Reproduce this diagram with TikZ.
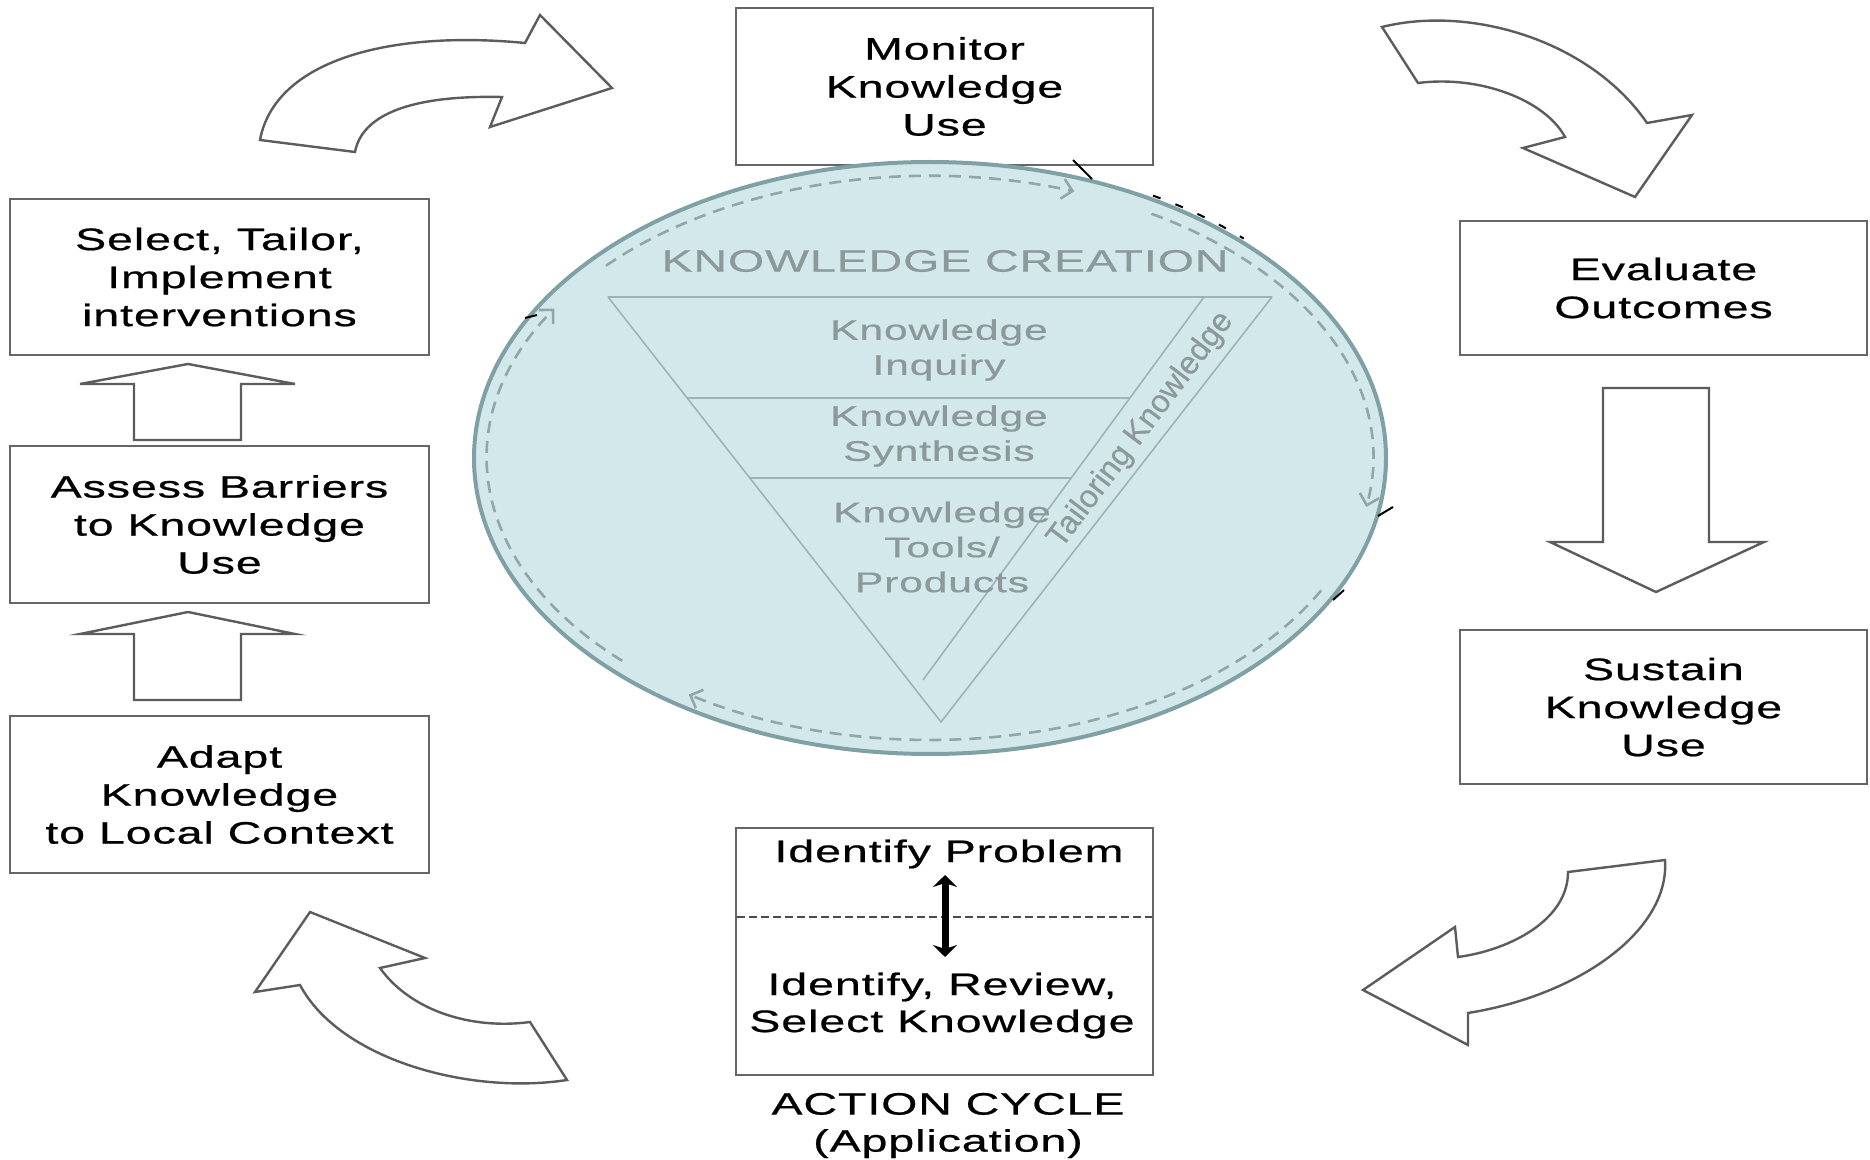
\documentclass[tikz,border=0pt]{standalone}
\usepackage{fontspec}
\setmainfont{Liberation Sans}[FakeStretch=1.5,LetterSpace=3,FakeBold=0.7]
\newfontfamily\plainsans{Liberation Sans}[FakeBold=0.5]
\usetikzlibrary{arrows.meta,calc}
\definecolor{boxline}{HTML}{666666}
\definecolor{arrline}{HTML}{5C5C5C}
\definecolor{ellfill}{HTML}{D3E8EA}
\definecolor{elldraw}{HTML}{7FA0A4}
\definecolor{kctext}{HTML}{8C999B}
\definecolor{triline}{HTML}{9DB3B5}
\definecolor{dashc}{HTML}{8FA7AA}
\tikzset{
  box/.style={draw=boxline, line width=1.4pt, fill=white, inner sep=0pt, align=center,
    font=\fontsize{15.5}{19}\selectfont, text=black},
  txt/.style={inner sep=0pt, align=center, font=\fontsize{15.5}{18.5}\selectfont, text=black},
  blk/.style={draw=arrline, line width=1.2pt, fill=white, line join=miter},
  kct/.style={text=kctext, inner sep=0pt, align=center, font=\fontsize{14.2}{17.5}\selectfont},
  dsh/.style={draw=dashc, line width=1.3pt, dash pattern=on 6pt off 4pt,
    -{Straight Barb[length=5pt,width=10pt]}},
  frag/.style={draw=black, line width=1pt}
}
\begin{document}
\begin{tikzpicture}[x=0.5pt,y=0.5pt]
\useasboundingbox (0,0) rectangle (1870,-1160);
\fill[white] (0,0) rectangle (1870,-1160);

% boxes
\node[box, minimum width=208.5pt, minimum height=78.5pt] (mon) at (944.5,-86.5) {Monitor\\Knowledge\\Use};
\node[box, minimum width=209.5pt, minimum height=78pt] (sel) at (219.5,-277) {Select, Tailor,\\Implement\\interventions};
\node[box, minimum width=209.5pt, minimum height=78.5pt] (ass) at (219.5,-524.5) {Assess Barriers\\to Knowledge\\Use};
\node[box, minimum width=209.5pt, minimum height=78.5pt] (ada) at (219.5,-794.5) {Adapt\\Knowledge\\to Local Context};
\node[box, minimum width=203.5pt, minimum height=67pt] (eva) at (1663.5,-288) {Evaluate\\Outcomes};
\node[box, minimum width=203.5pt, minimum height=77pt] (sus) at (1663.5,-707) {Sustain\\Knowledge\\Use};
\node[box, minimum width=208.5pt, minimum height=123.5pt] (idf) at (944.5,-951.5) {};

% identify box contents
\draw[draw=black!70, line width=0.8pt, dash pattern=on 4pt off 2pt] (737,-917) -- (1152,-917);
\node[txt] (ip) at (949,-854) {Identify Problem};
\node[txt] (irs) at (942,-1005.5) {Identify, Review,\\Select Knowledge};
\node[txt] (ac) at (948,-1125.5) {ACTION CYCLE\\(Application)};
\coordinate (dA) at (945,-875);
\coordinate (dB) at (945,-957);
\draw[line width=3.5pt, {Stealth[length=6pt,width=12pt]}-{Stealth[length=6pt,width=12pt]}] (dA) -- (dB);

% straight block arrows
\draw[blk] (134,-440) -- (134,-384) -- (80,-384) -- (188,-364) -- (295,-384) -- (241,-384) -- (241,-440) -- cycle;
\draw[blk] (134,-700) -- (134,-634) -- (80,-634) -- (188,-612) -- (295,-634) -- (241,-634) -- (241,-700) -- cycle;
\draw[blk] (1603,-388) -- (1709,-388) -- (1709,-542) -- (1764,-542) -- (1656,-592) -- (1550,-542) -- (1603,-542) -- cycle;

% curved block arrows
\draw[blk] (260,-140) -- (355,-152) .. controls (362,-115) and (410,-95) .. (502,-97)
  -- (490,-127) -- (612,-88) -- (540,-15) -- (525,-43)
  .. controls (390,-30) and (275,-60) .. (260,-140) -- cycle;
\draw[blk] (1382,-27) -- (1418,-83) .. controls (1480,-75) and (1545,-100) .. (1565,-137)
  -- (1523,-148) -- (1635,-197) -- (1692,-115) -- (1647,-123)
  .. controls (1590,-40) and (1470,-5) .. (1382,-27) -- cycle;
\draw[blk] (1568,-872) -- (1665,-860) .. controls (1670,-930) and (1580,-995) .. (1468,-1013)
  -- (1468,-1045) -- (1363,-990) -- (1455,-927) -- (1458,-957)
  .. controls (1510,-950) and (1568,-920) .. (1568,-872) -- cycle;
\draw[blk] (255,-992) -- (310,-912) -- (425,-958) -- (380,-968)
  .. controls (410,-1010) and (470,-1030) .. (530,-1022)
  -- (567,-1080) .. controls (470,-1095) and (340,-1060) .. (300,-985) -- cycle;

% knowledge creation ellipse
\draw[draw=elldraw, fill=ellfill, line width=2pt] (930,-458) ellipse [x radius=456, y radius=296];
\coordinate (ec) at (930,-458);
\draw[dsh] (ec) ++(226:443 and 282) arc[start angle=226, end angle=148, x radius=443, y radius=282];
\draw[dsh] (ec) ++(137:443 and 282) arc[start angle=137, end angle=71, x radius=443, y radius=282];
\draw[dsh] (ec) ++(60:443 and 282) arc[start angle=60, end angle=-10, x radius=443, y radius=282];
\draw[dsh] (ec) ++(-28:443 and 282) arc[start angle=-28, end angle=-123, x radius=443, y radius=282];

% black fragments
\draw[frag] (1073,-160) -- (1092,-179);
\draw[frag, dash pattern=on 4pt off 8pt] (ec) ++(61:460 and 300) arc[start angle=61, end angle=47, x radius=460, y radius=300];
\draw[frag] (1378,-516) -- (1393,-507);
\draw[frag] (1333,-600) -- (1344,-590);
\draw[frag] (525,-318) -- (537,-315);

% triangle
\draw[triline, line width=0.8pt, line join=round] (608,-297) -- (1272,-297) -- (941,-722) -- cycle;
\draw[triline, line width=0.8pt] (1204,-297) -- (923,-680);
\draw[triline, line width=1.3pt] (608,-297) -- (1272,-297);
\draw[triline, line width=1.3pt] (687,-398) -- (1130,-398);
\draw[triline, line width=1.3pt] (750,-478) -- (1071,-478);

\node[kct, font=\fontsize{15.5}{18}\selectfont] (kc) at (945,-261) {KNOWLEDGE CREATION};
\node[kct] (ki) at (939,-350) {Knowledge\\Inquiry};
\node[kct] (ks) at (939,-436) {Knowledge\\Synthesis};
\node[kct] (kt) at (942,-547) {Knowledge\\Tools/\\Products};
\node[kct, font=\plainsans\fontsize{16}{18}\selectfont, rotate=53] (tk) at (1141,-430) {Tailoring Knowledge};
\end{tikzpicture}
\end{document}
